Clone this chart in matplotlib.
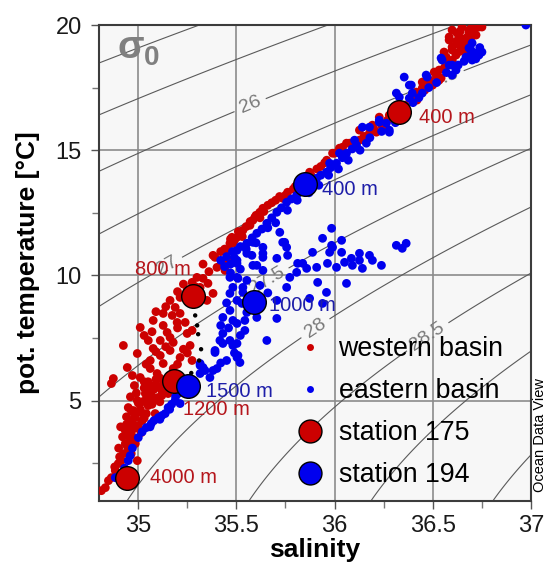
import numpy as np
import matplotlib
matplotlib.use("Agg")
import matplotlib.pyplot as plt
from matplotlib.lines import Line2D

plt.rcParams['font.family'] = ['Liberation Sans', 'DejaVu Sans']

# ---------------- data (salinity, potential temperature) ----------------
west_points = [
    # deep water
    (34.812, 1.40), (34.832, 1.52), (34.848, 1.80), (34.863, 1.92), (34.883, 2.20),
    (34.898, 2.48), (34.914, 2.60), (34.924, 2.88), (34.964, 2.88), (34.995, 2.60),
    (34.934, 3.28), (34.959, 3.40), (34.985, 3.28), (34.934, 3.80), (34.964, 3.72),
    (35.015, 3.72), (34.959, 4.20), (34.985, 4.32), (35.041, 4.48), (34.964, 4.60),
    (35.015, 4.52), (35.086, 4.48), (34.949, 4.72), (34.995, 5.00), (35.036, 5.28),
    (35.066, 5.20), (35.100, 5.12), (35.152, 5.28), (35.000, 4.00), (35.020, 4.20),
    (35.050, 4.80), (35.080, 5.00), (35.120, 5.40), (35.140, 5.60), (35.160, 5.80),
    (35.110, 5.90), (35.060, 5.60), (35.030, 5.50), (34.990, 5.30), (35.000, 4.90),
    (34.970, 4.10), (34.950, 3.60), (34.990, 3.90), (35.030, 4.30),
    (35.050, 5.75), (35.090, 5.65), (35.130, 5.75), (35.080, 5.45), (35.040, 5.05),
    (35.070, 4.85), (35.110, 4.95), (35.010, 4.65), (34.980, 4.45), (34.940, 4.05),
    (34.920, 3.55), (34.900, 3.10), (34.950, 3.00), (34.970, 3.55), (34.880, 2.35),
    (34.905, 2.75), (34.945, 3.15), (34.960, 3.95), (34.975, 4.60), (35.020, 4.95),
    (35.070, 5.40), (35.100, 5.55), (35.120, 5.20), (35.150, 5.50), (35.180, 5.55),
    (35.090, 5.85), (35.170, 6.05), (35.030, 5.75), (34.980, 5.60), (34.960, 5.15),
    (34.940, 4.35), (34.910, 3.95), (34.863, 5.68),
    # intermediate water, western basin
    (35.391, 10.72), (35.431, 10.52), (35.401, 10.32), (35.442, 10.20), (35.299, 9.92),
    (35.330, 9.88), (35.274, 9.72), (35.355, 9.68), (35.315, 9.52), (35.249, 9.40),
    (35.381, 9.28), (35.213, 9.12), (35.162, 9.00), (35.350, 9.00), (35.188, 8.72),
    (35.213, 8.48), (35.127, 8.48), (35.173, 8.40), (35.076, 8.20), (35.198, 8.12),
    (35.239, 8.12), (35.127, 8.00), (35.010, 7.92), (35.274, 7.80), (35.147, 7.72),
    (35.249, 7.68), (35.162, 7.52), (35.112, 7.40), (35.178, 7.32), (34.924, 7.20),
    (35.264, 7.20), (35.076, 7.08), (35.162, 7.00), (34.995, 6.88), (35.112, 6.80),
    (35.213, 6.72), (35.274, 6.60), (35.061, 6.60), (35.127, 6.48), (34.944, 6.32),
    (35.061, 6.28), (35.178, 6.28), (35.096, 6.08), (35.010, 5.92), (35.051, 7.40),
    (34.873, 5.88), (35.330, 10.45), (35.360, 10.15), (35.290, 9.55), (35.230, 9.65),
    (35.200, 9.35), (35.140, 8.75), (35.090, 8.55), (35.030, 7.60), (35.070, 7.75),
    (35.200, 7.90), (35.230, 7.05), (35.140, 7.15), (35.040, 6.45), (35.200, 6.45),
    (35.250, 6.90), (34.970, 6.00), (35.090, 6.95),
    # thermocline, western basin
    (35.503, 11.52), (35.467, 11.28), (35.533, 11.80), (35.584, 12.20), (35.635, 12.68),
    (35.482, 11.28), (35.518, 11.68), (35.569, 12.00), (35.619, 12.52), (35.594, 12.32),
    (35.736, 13.08), (35.761, 13.32), (35.822, 13.68), (35.873, 14.12), (36.000, 14.88),
    (36.025, 15.08), (36.061, 15.28), (35.381, 10.80), (35.452, 10.68), (35.477, 11.52),
    (35.440, 11.05), (35.490, 11.40), (35.550, 11.95), (35.600, 12.40), (35.660, 12.80),
    (35.700, 13.00), (35.790, 13.45), (35.850, 13.85), (35.930, 14.35), (35.960, 14.60),
    (35.420, 10.95), (35.460, 11.00), (35.470, 11.45), (35.510, 11.75), (35.530, 11.55),
    (35.570, 12.15), (35.620, 12.30), (35.640, 12.55), (35.680, 12.90), (35.720, 13.15),
    (35.750, 13.20), (35.800, 13.55), (35.840, 13.78), (35.880, 14.00), (35.910, 14.25),
    (35.950, 14.50), (36.030, 14.95), (36.100, 15.35), (36.170, 15.50), (36.240, 16.00),
    (36.270, 16.20), (36.360, 16.55), (36.420, 17.00), (36.460, 17.40), (36.500, 17.60),
    (36.520, 17.95), (36.560, 18.30), (36.580, 18.55), (36.600, 18.60), (36.640, 18.95),
    (36.660, 19.20), (36.620, 19.35), (36.680, 19.30), (36.700, 19.55), (36.710, 19.75),
    (36.640, 19.75),
    (35.990, 14.88), (36.041, 15.12), (36.076, 15.28), (36.127, 15.40), (36.178, 15.68),
    (36.127, 15.80), (36.228, 16.32), (36.279, 16.40), (36.315, 16.48), (36.193, 16.00),
    (36.213, 15.72), (36.254, 15.88), (36.396, 17.12), (36.416, 17.32), (36.447, 17.48),
    (36.482, 17.72), (36.518, 18.08), (36.543, 17.88), (36.447, 17.72), (36.508, 18.12),
    (36.533, 18.20), (36.569, 18.72), (36.599, 19.12), (36.635, 19.52), (36.599, 19.80),
    (36.650, 19.92), (36.685, 19.68), (36.701, 19.92), (36.645, 19.12), (36.660, 19.40),
    (36.619, 18.88), (36.736, 19.92), (36.584, 19.52), (36.670, 19.00), (36.533, 17.80),
    (36.482, 17.80), (36.619, 18.80), (36.635, 19.20), (36.670, 19.48), (36.685, 19.80),
    (36.721, 19.60), (36.584, 19.40), (36.624, 19.68), (36.751, 19.92), (36.558, 18.92),
    (36.599, 19.00), (36.150, 15.55), (36.200, 15.85), (36.300, 16.45), (36.360, 16.80),
    (36.400, 17.00),
]

east_points = [
    # deep water
    (34.883, 1.92), (34.909, 1.92), (34.949, 2.60), (34.959, 2.80), (35.000, 3.52),
    (35.041, 3.92), (35.066, 4.08), (35.102, 4.32), (35.137, 4.48), (35.152, 4.72),
    (35.188, 5.00), (35.203, 5.28), (35.020, 3.75), (35.080, 4.20), (35.120, 4.40),
    (35.170, 4.85), (34.970, 3.10), (34.930, 2.30), (35.060, 3.95), (35.110, 4.25),
    (35.160, 4.65), (35.190, 5.15), (35.210, 5.35),
    # intermediate water, eastern basin
    (35.315, 6.40), (35.340, 6.20), (35.381, 6.20), (35.365, 5.92), (35.315, 6.08),
    (35.431, 7.28), (35.482, 7.20), (35.391, 6.92), (35.508, 6.80), (35.518, 6.52),
    (35.213, 4.88), (35.330, 6.32), (35.401, 6.28), (35.315, 6.48),
    (35.503, 11.00), (35.553, 10.88), (35.584, 11.32), (35.635, 11.12), (35.721, 11.72),
    (35.736, 11.32), (35.706, 10.68), (35.503, 10.48), (35.584, 10.40), (35.635, 10.20),
    (35.503, 9.92), (35.553, 9.80), (35.482, 9.52), (35.533, 9.52), (35.503, 9.00),
    (35.467, 8.60), (35.431, 8.32), (35.553, 8.52), (35.706, 9.00), (35.706, 8.28),
    (35.503, 8.08), (35.431, 7.68), (35.467, 7.40), (35.503, 7.28), (35.543, 7.80),
    (35.655, 7.40), (35.503, 6.72), (35.756, 9.52), (35.772, 9.92), (35.838, 10.48),
    (35.807, 10.12), (35.604, 8.32), (35.503, 10.60), (35.579, 10.80), (35.635, 10.72),
    (35.604, 10.40), (35.467, 9.92), (35.508, 9.88), (35.467, 9.28), (35.533, 9.32),
    (35.528, 8.88), (35.482, 8.20), (35.543, 8.20), (35.416, 7.40), (35.391, 7.00),
    (35.450, 8.90), (35.420, 8.00), (35.460, 7.90), (35.520, 7.60), (35.490, 6.90),
    (35.450, 6.60), (35.420, 6.50), (35.560, 9.10), (35.620, 9.60), (35.660, 9.30),
    (35.470, 10.10), (35.520, 10.25),
    (35.985, 11.88), (35.939, 11.48), (35.746, 11.32), (36.036, 11.40), (35.888, 10.92),
    (35.975, 10.92), (35.985, 11.20), (36.036, 10.92), (36.127, 10.88), (36.178, 10.80),
    (36.086, 10.68), (36.051, 10.52), (36.127, 10.60), (36.193, 10.60), (35.964, 10.48),
    (35.812, 10.48), (35.858, 10.28), (35.909, 10.32), (36.010, 10.32), (36.091, 10.40),
    (36.142, 10.28), (36.239, 10.40), (36.315, 11.20), (36.365, 11.28), (36.345, 11.08),
    (35.914, 9.72), (35.959, 9.32), (36.061, 9.68), (35.873, 9.08), (35.939, 8.88),
    (35.761, 10.80), (35.635, 10.88), (35.990, 11.12), (35.756, 11.12),
    # thermocline, eastern basin
    (35.553, 11.28), (35.604, 11.68), (35.655, 12.08), (35.706, 12.52), (35.756, 12.92),
    (35.807, 13.20), (35.858, 13.52), (35.909, 13.88), (35.959, 14.12), (36.010, 14.48),
    (36.061, 14.88), (36.112, 15.20), (35.420, 10.60), (35.450, 10.75), (35.480, 10.95),
    (35.520, 11.15), (35.580, 11.50), (35.630, 11.85), (35.680, 12.30), (35.730, 12.70),
    (35.780, 13.05), (35.830, 13.35), (35.880, 13.70), (35.930, 14.00), (35.980, 14.30),
    (36.040, 14.70), (36.090, 15.05), (35.470, 10.45), (35.440, 10.35), (35.490, 10.70),
    (35.550, 11.05), (35.600, 11.30), (35.660, 11.90), (35.700, 12.10), (35.760, 12.60),
    (35.810, 13.00), (35.870, 13.30), (35.920, 13.60), (35.970, 14.00), (36.020, 14.25),
    (36.070, 14.60), (36.130, 15.00), (36.180, 15.50), (36.240, 15.75), (36.310, 16.10),
    (36.400, 16.90), (36.430, 17.10), (36.480, 17.50), (36.520, 17.70), (36.570, 18.10),
    (36.630, 18.40), (36.660, 18.55), (36.690, 18.75), (36.720, 18.65), (36.740, 19.10),
    (35.975, 14.48), (36.025, 14.88), (36.102, 15.40), (36.142, 15.92), (36.178, 15.92),
    (36.228, 16.12), (36.279, 15.80), (36.162, 15.28), (36.345, 16.40), (36.330, 17.12),
    (36.355, 17.92), (36.396, 17.28), (36.391, 17.60), (36.447, 17.28), (36.467, 18.00),
    (36.548, 18.60), (36.599, 18.40), (36.619, 18.20), (36.670, 18.72), (36.695, 19.00),
    (36.736, 18.80), (36.701, 19.28), (36.751, 18.92), (36.975, 20.00), (36.315, 17.28),
    (36.381, 17.60), (36.381, 17.08), (36.228, 16.20), (36.264, 16.08), (36.279, 15.72),
    (36.543, 18.68), (36.584, 18.40), (36.685, 19.08), (36.721, 18.88), (36.701, 18.60),
    (36.472, 17.92), (36.599, 18.00),
]

track_points = [(35.290, 8.40), (35.300, 8.00), (35.305, 7.65), (35.320, 7.05),
                (35.310, 6.60), (35.270, 6.10)]

st175_sal = [36.33, 35.28, 35.183, 34.945]
st175_temp = [16.52, 9.18, 5.80, 1.92]
st175_depth = ["400 m", "800 m", "1200 m", "4000 m"]

st194_sal = [35.85, 35.59, 35.254]
st194_temp = [13.64, 8.92, 5.60]
st194_depth = ["400 m", "1000 m", "1500 m"]

plain_levels = [25.0, 25.5, 29.0, 29.5]
label_levels = [26.0, 26.5, 27.0, 27.5, 28.0, 28.5]

x_ticks = [35, 35.5, 36, 36.5, 37]
x_ticklabels = ["35", "35.5", "36", "36.5", "37"]
y_ticks = [5, 10, 15, 20]
y_ticklabels = ["5", "10", "15", "20"]

legend_labels = ['western basin', 'eastern basin', 'station 175', 'station 194']


def sigma0(S, t):
    """UNESCO EOS-80 density at p=0 minus 1000."""
    rw = (999.842594 + 6.793952e-2 * t - 9.095290e-3 * t**2 + 1.001685e-4 * t**3
          - 1.120083e-6 * t**4 + 6.536332e-9 * t**5)
    A = 8.24493e-1 - 4.0899e-3 * t + 7.6438e-5 * t**2 - 8.2467e-7 * t**3 + 5.3875e-9 * t**4
    B = -5.72466e-3 + 1.0227e-4 * t - 1.6546e-6 * t**2
    C = 4.8314e-4
    return rw + A * S + B * S**1.5 + C * S**2 - 1000.0


# ---------------- figure ----------------
fig = plt.figure(figsize=(5.48, 5.70), dpi=100)
ax = fig.add_axes([0.1807, 0.1216, 0.9686 - 0.1807, 0.9561 - 0.1216])
ax.set_facecolor('#f7f7f7')
ax.set_xlim(34.8, 37.0)
ax.set_ylim(1.0, 20.0)

# grid
ax.set_axisbelow(True)
ax.grid(True, which='major', color='#8c8c8c', lw=1.2, zorder=0)

# density contours
Sg, Tg = np.meshgrid(np.linspace(34.8, 37.0, 300), np.linspace(1.0, 20.0, 300))
SIG = sigma0(Sg, Tg)
ax.contour(Sg, Tg, SIG, levels=plain_levels, colors='#5a5a5a', linewidths=0.8, zorder=1)
cs = ax.contour(Sg, Tg, SIG, levels=label_levels, colors='#5a5a5a', linewidths=0.8, zorder=1)
label_pos = [(35.57, 16.8), (36.53, 18.0), (35.14, 10.5), (35.64, 10.0),
             (35.91, 7.8), (36.47, 7.6)]
ax.clabel(cs, manual=label_pos, inline=True, fontsize=14, colors='#7a7a7a',
          fmt=lambda v: f"{v:g}", inline_spacing=6)

# scatter data
west = np.array(west_points)
east = np.array(east_points)
track = np.array(track_points)
ax.scatter(west[:, 0], west[:, 1], s=40, color='#cc0000', edgecolors='none', zorder=3)
ax.scatter(east[:, 0], east[:, 1], s=40, color='#0000ee', edgecolors='none', zorder=4)
ax.scatter(track[:, 0], track[:, 1], s=10, color='black', edgecolors='none', zorder=4.5)

ax.scatter(st175_sal, st175_temp, s=290, color='#cc0000', edgecolors='black',
           linewidths=1.0, zorder=5)
ax.scatter(st194_sal, st194_temp, s=290, color='#0000ee', edgecolors='black',
           linewidths=1.0, zorder=6)

red_txt = '#b5161c'
blue_txt = '#1e1ea8'
off175 = [(14, -4, 'left'), (-2, 19, 'right'), (6, -21, 'left'), (16, 0, 'left')]
off194 = [(12, -4, 'left'), (11, -2, 'left'), (13, -4, 'left')]
for x, y, lab, (dx, dy, ha) in zip(st175_sal, st175_temp, st175_depth, off175):
    ax.annotate(lab, (x, y), xytext=(dx, dy), textcoords='offset points',
                ha=ha, va='center', color=red_txt, fontsize=14.5, zorder=7)
for x, y, lab, (dx, dy, ha) in zip(st194_sal, st194_temp, st194_depth, off194):
    ax.annotate(lab, (x, y), xytext=(dx, dy), textcoords='offset points',
                ha=ha, va='center', color=blue_txt, fontsize=14.5, zorder=7)

# sigma-0 label
ax.text(0.042, 0.990, 'σ', transform=ax.transAxes, fontsize=28, fontweight='bold',
        color='#808080', ha='left', va='top', zorder=8)
ax.text(0.1045, 0.958, '0', transform=ax.transAxes, fontsize=20, fontweight='bold',
        color='#808080', ha='left', va='top', zorder=8)

# axes styling
for sp in ax.spines.values():
    sp.set_color('#3c3c3c')
    sp.set_linewidth(1.5)
ax.set_xticks(x_ticks)
ax.set_xticklabels(x_ticklabels)
ax.set_yticks(y_ticks)
ax.set_yticklabels(y_ticklabels)
ax.set_xticks([34.75 + 0.5 * k for k in range(1, 5)], minor=True)
ax.set_yticks([2.5, 7.5, 12.5, 17.5], minor=True)
ax.tick_params(which='major', direction='out', length=6, width=1.0, color='#555555',
               labelsize=17, labelcolor='#1a1a1a')
ax.tick_params(which='minor', direction='out', length=5, width=1.0, color='#777777')
ax.tick_params(axis='x', pad=4.3)
ax.tick_params(axis='y', pad=6.5)

ax.set_xlabel('salinity', fontsize=19, fontweight='bold', labelpad=1)
ax.set_ylabel('pot. temperature [°C]', fontsize=19, fontweight='bold', labelpad=11)

# legend
handles = [
    Line2D([], [], ls='none', marker='o', ms=5, mfc='#cc0000', mec='none'),
    Line2D([], [], ls='none', marker='o', ms=5, mfc='#0000ee', mec='none'),
    Line2D([], [], ls='none', marker='o', ms=16.5, mfc='#cc0000', mec='black', mew=1.0),
    Line2D([], [], ls='none', marker='o', ms=16.5, mfc='#0000ee', mec='black', mew=1.0),
]
leg = ax.legend(handles, legend_labels,
                loc='upper left', bbox_to_anchor=(0.4585, 0.346), frameon=False,
                fontsize=19.3, handlelength=1.0, handletextpad=0.55,
                labelspacing=0.6, borderaxespad=0, borderpad=0)
leg.set_zorder(9)

fig.text(0.986, 0.237, 'Ocean Data View', rotation=90, fontsize=10.5,
         ha='center', va='center', color='black')

fig.savefig('out.png', dpi=100)
